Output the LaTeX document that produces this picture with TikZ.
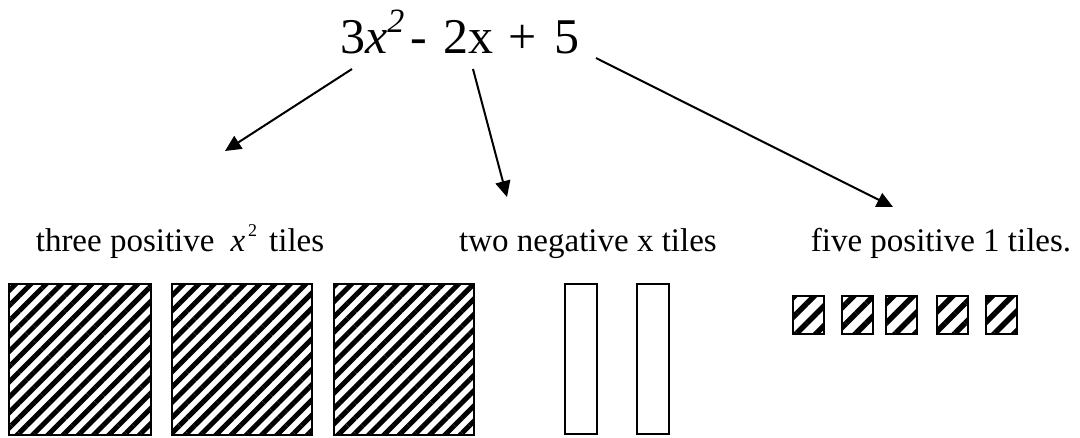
\documentclass[tikz,border=0pt]{standalone}
\usepackage{fontspec}
\setmainfont{Liberation Serif}
\usetikzlibrary{patterns.meta,arrows.meta}
\begin{document}
\begin{tikzpicture}[x=1pt,y=-1pt,
  conn/.style={line width=2pt,-{Triangle[length=16pt,width=15pt]}},
  bigtile/.style={draw,line width=2pt,pattern={Lines[angle=45,distance=10.8pt,line width=5pt]}},
  smalltile/.style={draw,line width=2pt,pattern={Lines[angle=45,distance=14pt,line width=5.5pt]}},
  xtile/.style={draw,line width=2pt,fill=white},
  lbl/.style={anchor=base,inner sep=0pt,font=\fontsize{33}{36}\selectfont},
  title/.style={anchor=base west,inner sep=0pt,font=\fontsize{50}{56}\selectfont}
]
\useasboundingbox[fill=white] (0,0) rectangle (1080,437);
% title
\node[title] (eq) at (340,53) {3\textit{x}\raisebox{0.42em}{\fontsize{34}{36}\selectfont\textit{2}}\hspace{6pt}-\hspace{16pt}2x\hspace{15pt}+\hspace{18pt}5};
% labels
\node[lbl] (l1) at (180,251) {three positive\hspace{16pt}\textit{x}\hspace{3pt}\raisebox{0.45em}{\fontsize{18}{19}\selectfont 2}\hspace{12pt}tiles};
\node[lbl] (l2) at (588,251) {two negative x tiles};
\node[lbl] (l3) at (941,251) {five positive 1 tiles.};
% arrows
\coordinate (a1s) at (352,69);
\coordinate (a1e) at (225,151);
\coordinate (a2s) at (473,69);
\coordinate (a2e) at (507,197);
\coordinate (a3s) at (596,58);
\coordinate (a3e) at (893,207);
\draw[conn] (a1s) -- (a1e);
\draw[conn] (a2s) -- (a2e);
\draw[conn] (a3s) -- (a3e);
% x^2 tiles
\draw[bigtile] (9,284) rectangle (151,435);
\draw[bigtile] (172,284) rectangle (312,435);
\draw[bigtile] (334,284) rectangle (474,435);
% x tiles
\draw[xtile] (565,284) rectangle (597,434);
\draw[xtile] (637,284) rectangle (669,434);
% unit tiles
\foreach \x in {793,842,886,937,986}
  \draw[smalltile] (\x,296) rectangle ++(31,38);
\end{tikzpicture}
\end{document}
